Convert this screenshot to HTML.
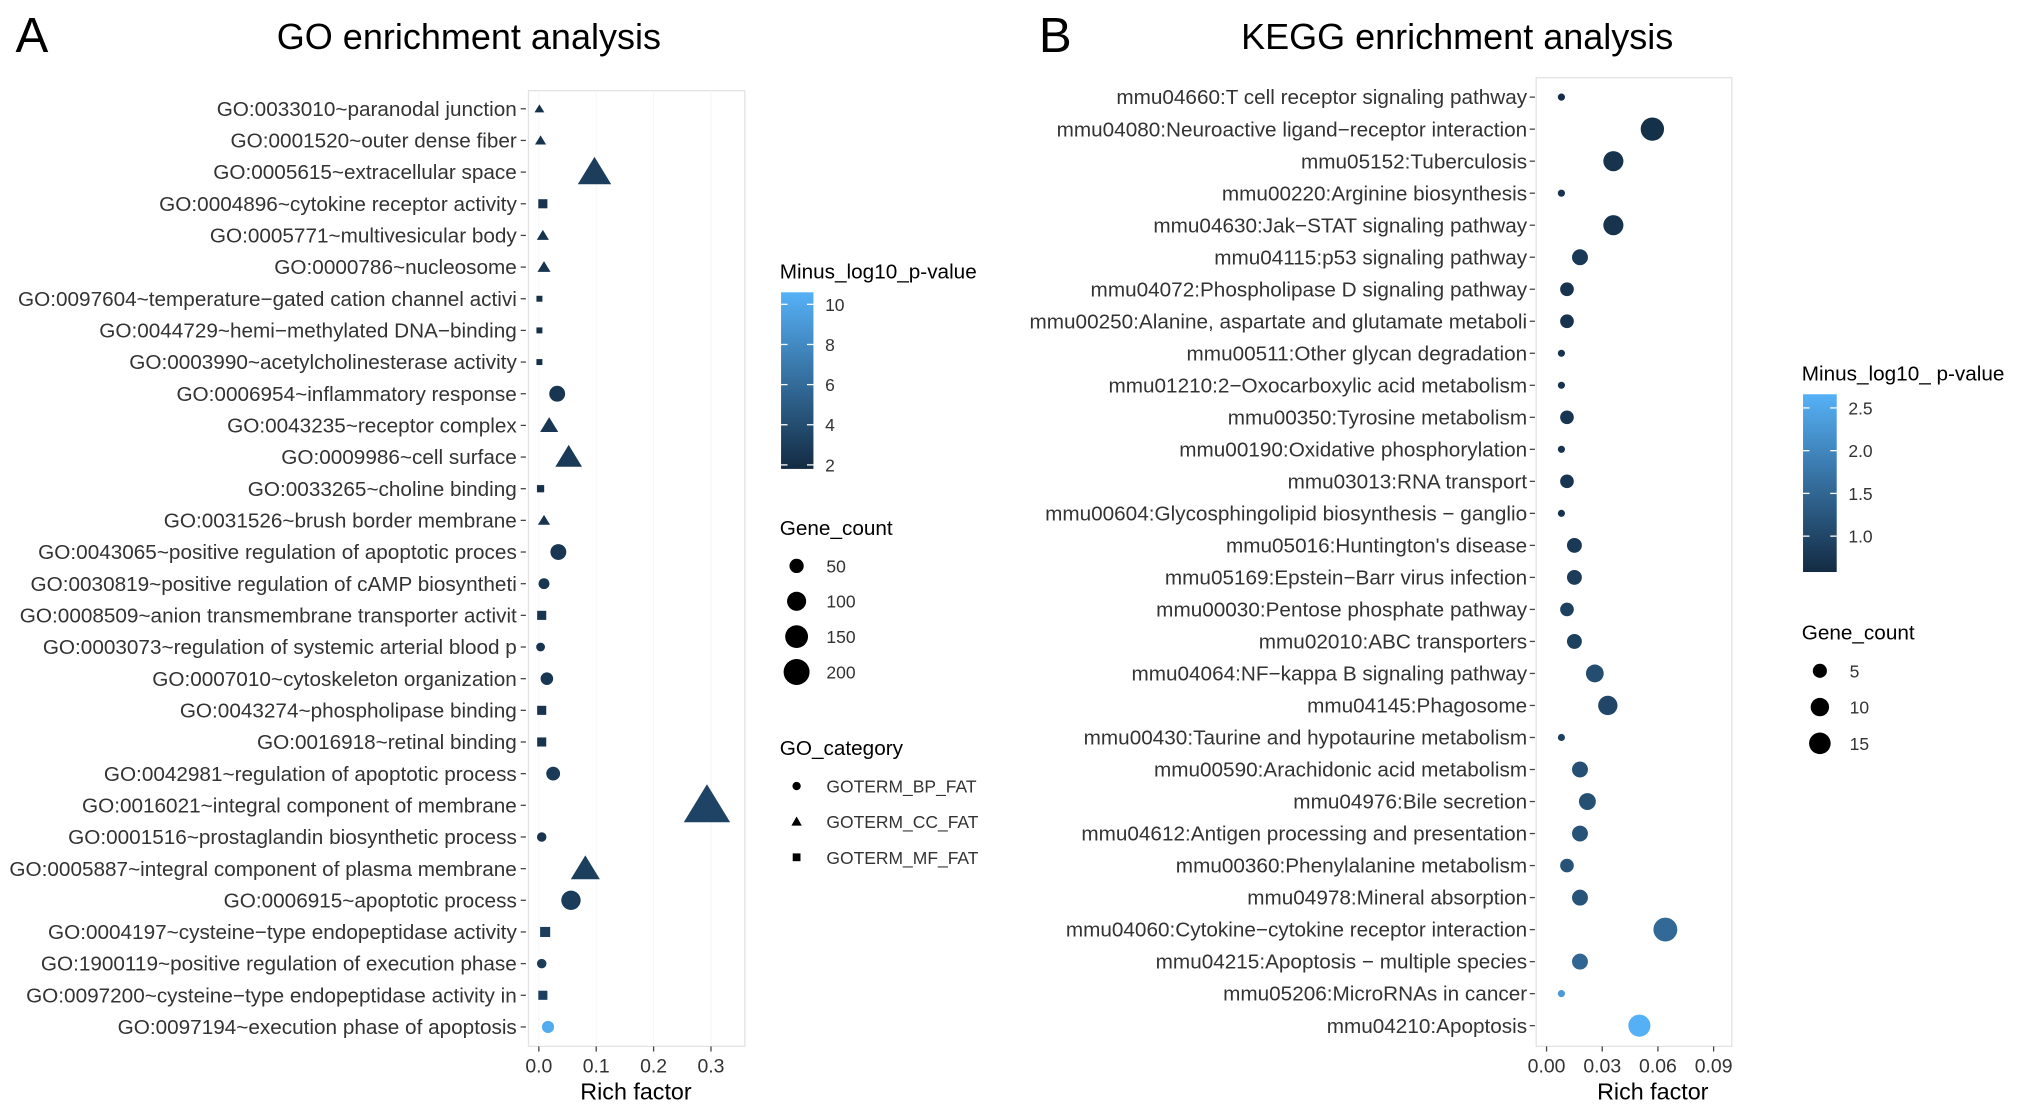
<!DOCTYPE html>
<html><head><meta charset="utf-8">
<style>
html,body{margin:0;padding:0;background:#fff;}
svg{display:block;}
text{font-family:"Liberation Sans",Arial,sans-serif;}
</style></head>
<body>
<svg id="fig" xmlns="http://www.w3.org/2000/svg" width="2031" height="1115" viewBox="0 0 1568 861" preserveAspectRatio="none">
<defs>
<linearGradient id="gA" x1="0" y1="1" x2="0" y2="0"><stop offset="0" stop-color="#132B43"/><stop offset="1" stop-color="#56B1F7"/></linearGradient>
<linearGradient id="gB" x1="0" y1="1" x2="0" y2="0"><stop offset="0" stop-color="#132B43"/><stop offset="1" stop-color="#56B1F7"/></linearGradient>
</defs>
<text x="12" y="40" font-size="38">A</text>
<text x="362" y="38" font-size="27.8" text-anchor="middle">GO enrichment analysis</text>
<text x="802" y="40" font-size="38">B</text>
<text x="1125" y="38" font-size="27.8" text-anchor="middle">KEGG enrichment analysis</text>
<g id="gA-plot"></g>
<g id="gB-plot"></g>
</svg>
<script>
// ---------- GO data ----------
const goTerms = ["GO:0033010~paranodal junction","GO:0001520~outer dense fiber","GO:0005615~extracellular space","GO:0004896~cytokine receptor activity","GO:0005771~multivesicular body","GO:0000786~nucleosome","GO:0097604~temperature\u2212gated cation channel activi","GO:0044729~hemi\u2212methylated DNA\u2212binding","GO:0003990~acetylcholinesterase activity","GO:0006954~inflammatory response","GO:0043235~receptor complex","GO:0009986~cell surface","GO:0033265~choline binding","GO:0031526~brush border membrane","GO:0043065~positive regulation of apoptotic proces","GO:0030819~positive regulation of cAMP biosyntheti","GO:0008509~anion transmembrane transporter activit","GO:0003073~regulation of systemic arterial blood p","GO:0007010~cytoskeleton organization","GO:0043274~phospholipase binding","GO:0016918~retinal binding","GO:0042981~regulation of apoptotic process","GO:0016021~integral component of membrane","GO:0001516~prostaglandin biosynthetic process","GO:0005887~integral component of plasma membrane","GO:0006915~apoptotic process","GO:0004197~cysteine\u2212type endopeptidase activity","GO:1900119~positive regulation of execution phase ","GO:0097200~cysteine\u2212type endopeptidase activity in","GO:0097194~execution phase of apoptosis"];
const goRich = [0.001,0.003,0.097,0.007,0.007,0.009,0.001,0.001,0.001,0.032,0.018,0.052,0.003,0.009,0.034,0.009,0.005,0.003,0.014,0.005,0.005,0.025,0.293,0.005,0.081,0.056,0.011,0.005,0.007,0.016];
const goCount = [4,6,110,12,8,10,3,3,3,40,25,65,6,8,40,15,12,8,22,12,12,28,230,10,80,65,16,10,12,20];
const goCat = ["CC","CC","CC","MF","CC","CC","MF","MF","MF","BP","CC","CC","MF","CC","BP","BP","MF","BP","BP","MF","MF","BP","CC","BP","CC","BP","MF","BP","MF","BP"];
const goP = [2.2,2.3,3.0,2.3,2.3,2.3,2.1,2.1,2.1,2.5,2.6,2.8,2.2,2.4,2.6,2.5,2.4,2.4,2.6,2.4,2.4,2.8,3.4,2.4,3.1,2.9,3.0,2.9,3.2,10.2];
const goXTicks = [0.0,0.1,0.2,0.3];
const goColorTicks = [2,4,6,8,10];
const goSizeTicks = [50,100,150,200];
const goCatLabels = ["GOTERM_BP_FAT","GOTERM_CC_FAT","GOTERM_MF_FAT"];
// ---------- KEGG data ----------
const keggTerms = ["mmu04660:T cell receptor signaling pathway","mmu04080:Neuroactive ligand\u2212receptor interaction","mmu05152:Tuberculosis","mmu00220:Arginine biosynthesis","mmu04630:Jak\u2212STAT signaling pathway","mmu04115:p53 signaling pathway","mmu04072:Phospholipase D signaling pathway","mmu00250:Alanine, aspartate and glutamate metaboli","mmu00511:Other glycan degradation","mmu01210:2\u2212Oxocarboxylic acid metabolism","mmu00350:Tyrosine metabolism","mmu00190:Oxidative phosphorylation","mmu03013:RNA transport","mmu00604:Glycosphingolipid biosynthesis \u2212 ganglio ","mmu05016:Huntington's disease","mmu05169:Epstein\u2212Barr virus infection","mmu00030:Pentose phosphate pathway","mmu02010:ABC transporters","mmu04064:NF\u2212kappa B signaling pathway","mmu04145:Phagosome","mmu00430:Taurine and hypotaurine metabolism","mmu00590:Arachidonic acid metabolism","mmu04976:Bile secretion","mmu04612:Antigen processing and presentation","mmu00360:Phenylalanine metabolism","mmu04978:Mineral absorption","mmu04060:Cytokine\u2212cytokine receptor interaction","mmu04215:Apoptosis \u2212 multiple species","mmu05206:MicroRNAs in cancer","mmu04210:Apoptosis"];
const keggRich = [0.008,0.057,0.036,0.008,0.036,0.018,0.011,0.011,0.008,0.008,0.011,0.008,0.011,0.008,0.015,0.015,0.011,0.015,0.026,0.033,0.008,0.018,0.022,0.018,0.011,0.018,0.064,0.018,0.008,0.050];
const keggCount = [1,16,11,1,11,6,4,4,1,1,4,1,4,1,5,5,4,5,8,10,1,6,7,6,4,6,17,6,1,14];
const keggP = [0.6,0.65,0.7,0.7,0.7,0.8,0.7,0.7,0.7,0.7,0.75,0.7,0.75,0.7,0.8,0.85,0.9,0.9,1.1,1.0,0.9,1.15,1.15,1.2,1.2,1.2,1.55,1.5,2.3,2.65];
const keggXTicks = [0.00,0.03,0.06,0.09];
const keggColorTicks = [1.0,1.5,2.0,2.5];
const keggSizeTicks = [5,10,15];

const NS="http://www.w3.org/2000/svg";
function mk(parent,tag,attrs,txt){const e=document.createElementNS(NS,tag);for(const k in attrs)e.setAttribute(k,attrs[k]);if(txt!==undefined)e.textContent=txt;parent.appendChild(e);return e;}
function lerpColor(t){t=Math.max(0,Math.min(1,t));const a=[0x13,0x2B,0x43],b=[0x56,0xB1,0xF7];return "rgb("+a.map((v,i)=>Math.round(v+(b[i]-v)*t)).join(",")+")";}

// ---------- GO panel ----------
(function(){
 const g=document.getElementById('gA-plot');
 const L=408,R=575,T=70,B=808;
 const xs=v=>416+v*443;
 const ys=i=>84+i*(793-84)/(goTerms.length-1);
 const rs=c=>0.78*Math.sqrt(c)+1.2;
 const pmin=1.8,pmax=10.6;
 const col=p=>lerpColor((p-pmin)/(pmax-pmin));
 const box=mk(g,'rect',{x:L,y:T,width:R-L,height:B-T,fill:'#fff',stroke:'#e3e3e3','stroke-width':1});
 
 
 goXTicks.forEach(t=>{const gl=mk(g,'line',{x1:xs(t),x2:xs(t),y1:T,y2:B,stroke:'#f6f6f6','stroke-width':0.8});
  
  });
 goTerms.forEach((t,i)=>{const y=ys(i);
  const tk=mk(g,'line',{x1:402,x2:406,y1:y,y2:y,stroke:'#444','stroke-width':1});
  
  
  const lb=mk(g,'text',{x:399,y:y+5.5,'font-size':16,'text-anchor':'end',fill:'#333'},t);
  
  
 });
 goTerms.forEach((t,i)=>{const x=xs(goRich[i]),y=ys(i),r=rs(goCount[i]),c=col(goP[i]);let m;
  if(goCat[i]==='BP'){m=mk(g,'circle',{cx:x,cy:y,r:r,fill:c});}
  else if(goCat[i]==='CC'){const h=r*1.25;m=mk(g,'polygon',{points:`${x},${y-h} ${x+h*1.1},${y+h*0.8} ${x-h*1.1},${y+h*0.8}`,fill:c});}
  else{const s=r*0.9;m=mk(g,'rect',{x:x-s,y:y-s,width:2*s,height:2*s,fill:c});}
  
  
 });
 goXTicks.forEach(t=>{const x=xs(t);
  const tk=mk(g,'line',{x1:x,x2:x,y1:B,y2:B+4,stroke:'#444','stroke-width':1});
  
  
  const tl=mk(g,'text',{x:x,y:828,'font-size':15,'text-anchor':'middle',fill:'#333'},t.toFixed(1));
  
  });
 const xt=mk(g,'text',{x:491,y:849,'font-size':18,'text-anchor':'middle',fill:'#000'},'Rich factor');
 
 
 const lt=mk(g,'text',{x:602,y:215,'font-size':16,fill:'#000'},'Minus_log10_p-value');
 
 
 const cy=v=>359-(v-2)*15.5;
 const cb=mk(g,'rect',{x:603,y:cy(pmax),width:25,height:cy(pmin)-cy(pmax),fill:'url(#gA)'});
 
 
 goColorTicks.forEach(v=>{const y=cy(v);
  mk(g,'line',{x1:603,x2:608,y1:y,y2:y,stroke:'#fff','stroke-width':1});
  mk(g,'line',{x1:623,x2:628,y1:y,y2:y,stroke:'#fff','stroke-width':1});
  const l=mk(g,'text',{x:637,y:y+5,'font-size':13.5,fill:'#333'},String(v));
  
  });
 const st=mk(g,'text',{x:602,y:413,'font-size':16,fill:'#000'},'Gene_count');
 
 
 goSizeTicks.forEach((v,i)=>{const y=437+i*27.3;
  const c=mk(g,'circle',{cx:615,cy:y,r:rs(v)*0.82,fill:'#000'});
  
  
  const l=mk(g,'text',{x:638,y:y+5,'font-size':13.5,fill:'#333'},String(v));
  
  });
 const ct=mk(g,'text',{x:602,y:583,'font-size':16,fill:'#000'},'GO_category');
 
 
 goCatLabels.forEach((v,i)=>{const y=607+i*27.5;let m;
  if(i===0)m=mk(g,'circle',{cx:615,cy:y,r:3.2,fill:'#000'});
  else if(i===1)m=mk(g,'polygon',{points:`615,${y-4} 619,${y+3} 611,${y+3}`,fill:'#000'});
  else m=mk(g,'rect',{x:612,y:y-3,width:6,height:6,fill:'#000'});
  
  
  const l=mk(g,'text',{x:638,y:y+5,'font-size':13.5,fill:'#333'},v);
  
  });
})();

// ---------- KEGG panel ----------
(function(){
 const g=document.getElementById('gB-plot');
 const L=1186,R=1337,T=60,B=808;
 const xs=v=>1194+v*1433;
 const ys=i=>75+i*(792-75)/(keggTerms.length-1);
 const rs=c=>2.2+1.75*Math.sqrt(c-0.9);
 const pmin=0.58,pmax=2.66;
 const col=p=>lerpColor((p-pmin)/(pmax-pmin));
 const box=mk(g,'rect',{x:L,y:T,width:R-L,height:B-T,fill:'#fff',stroke:'#e3e3e3','stroke-width':1});
 
 
 keggTerms.forEach((t,i)=>{const y=ys(i);
  const tk=mk(g,'line',{x1:1181,x2:1185,y1:y,y2:y,stroke:'#444','stroke-width':1});
  
  
  const lb=mk(g,'text',{x:1179,y:y+5.5,'font-size':16,'text-anchor':'end',fill:'#333'},t);
  
  
 });
 keggTerms.forEach((t,i)=>{
  const m=mk(g,'circle',{cx:xs(keggRich[i]),cy:ys(i),r:rs(keggCount[i]),fill:col(keggP[i])});
  
  
 });
 keggXTicks.forEach(t=>{const x=xs(t);
  const tk=mk(g,'line',{x1:x,x2:x,y1:B,y2:B+4,stroke:'#444','stroke-width':1});
  
  
  const tl=mk(g,'text',{x:x,y:828,'font-size':15,'text-anchor':'middle',fill:'#333'},t.toFixed(2));
  
  });
 const xt=mk(g,'text',{x:1276,y:849,'font-size':18,'text-anchor':'middle',fill:'#000'},'Rich factor');
 
 
 const lt=mk(g,'text',{x:1391,y:294,'font-size':16,fill:'#000'},'Minus_log10_ p-value');
 
 
 const cy=v=>414-(v-1)*66;
 const cb=mk(g,'rect',{x:1392,y:cy(pmax),width:26,height:cy(pmin)-cy(pmax),fill:'url(#gB)'});
 
 
 keggColorTicks.forEach(v=>{const y=cy(v);
  mk(g,'line',{x1:1392,x2:1397,y1:y,y2:y,stroke:'#fff','stroke-width':1});
  mk(g,'line',{x1:1413,x2:1418,y1:y,y2:y,stroke:'#fff','stroke-width':1});
  const l=mk(g,'text',{x:1427,y:y+5,'font-size':13.5,fill:'#333'},v.toFixed(1));
  
  });
 const st=mk(g,'text',{x:1391,y:494,'font-size':16,fill:'#000'},'Gene_count');
 
 
 keggSizeTicks.forEach((v,i)=>{const y=518+i*28;
  const c=mk(g,'circle',{cx:1405,cy:y,r:rs(v)*0.95,fill:'#000'});
  
  
  const l=mk(g,'text',{x:1428,y:y+5,'font-size':13.5,fill:'#333'},String(v));
  
  });
})();
</script>
</body></html>
